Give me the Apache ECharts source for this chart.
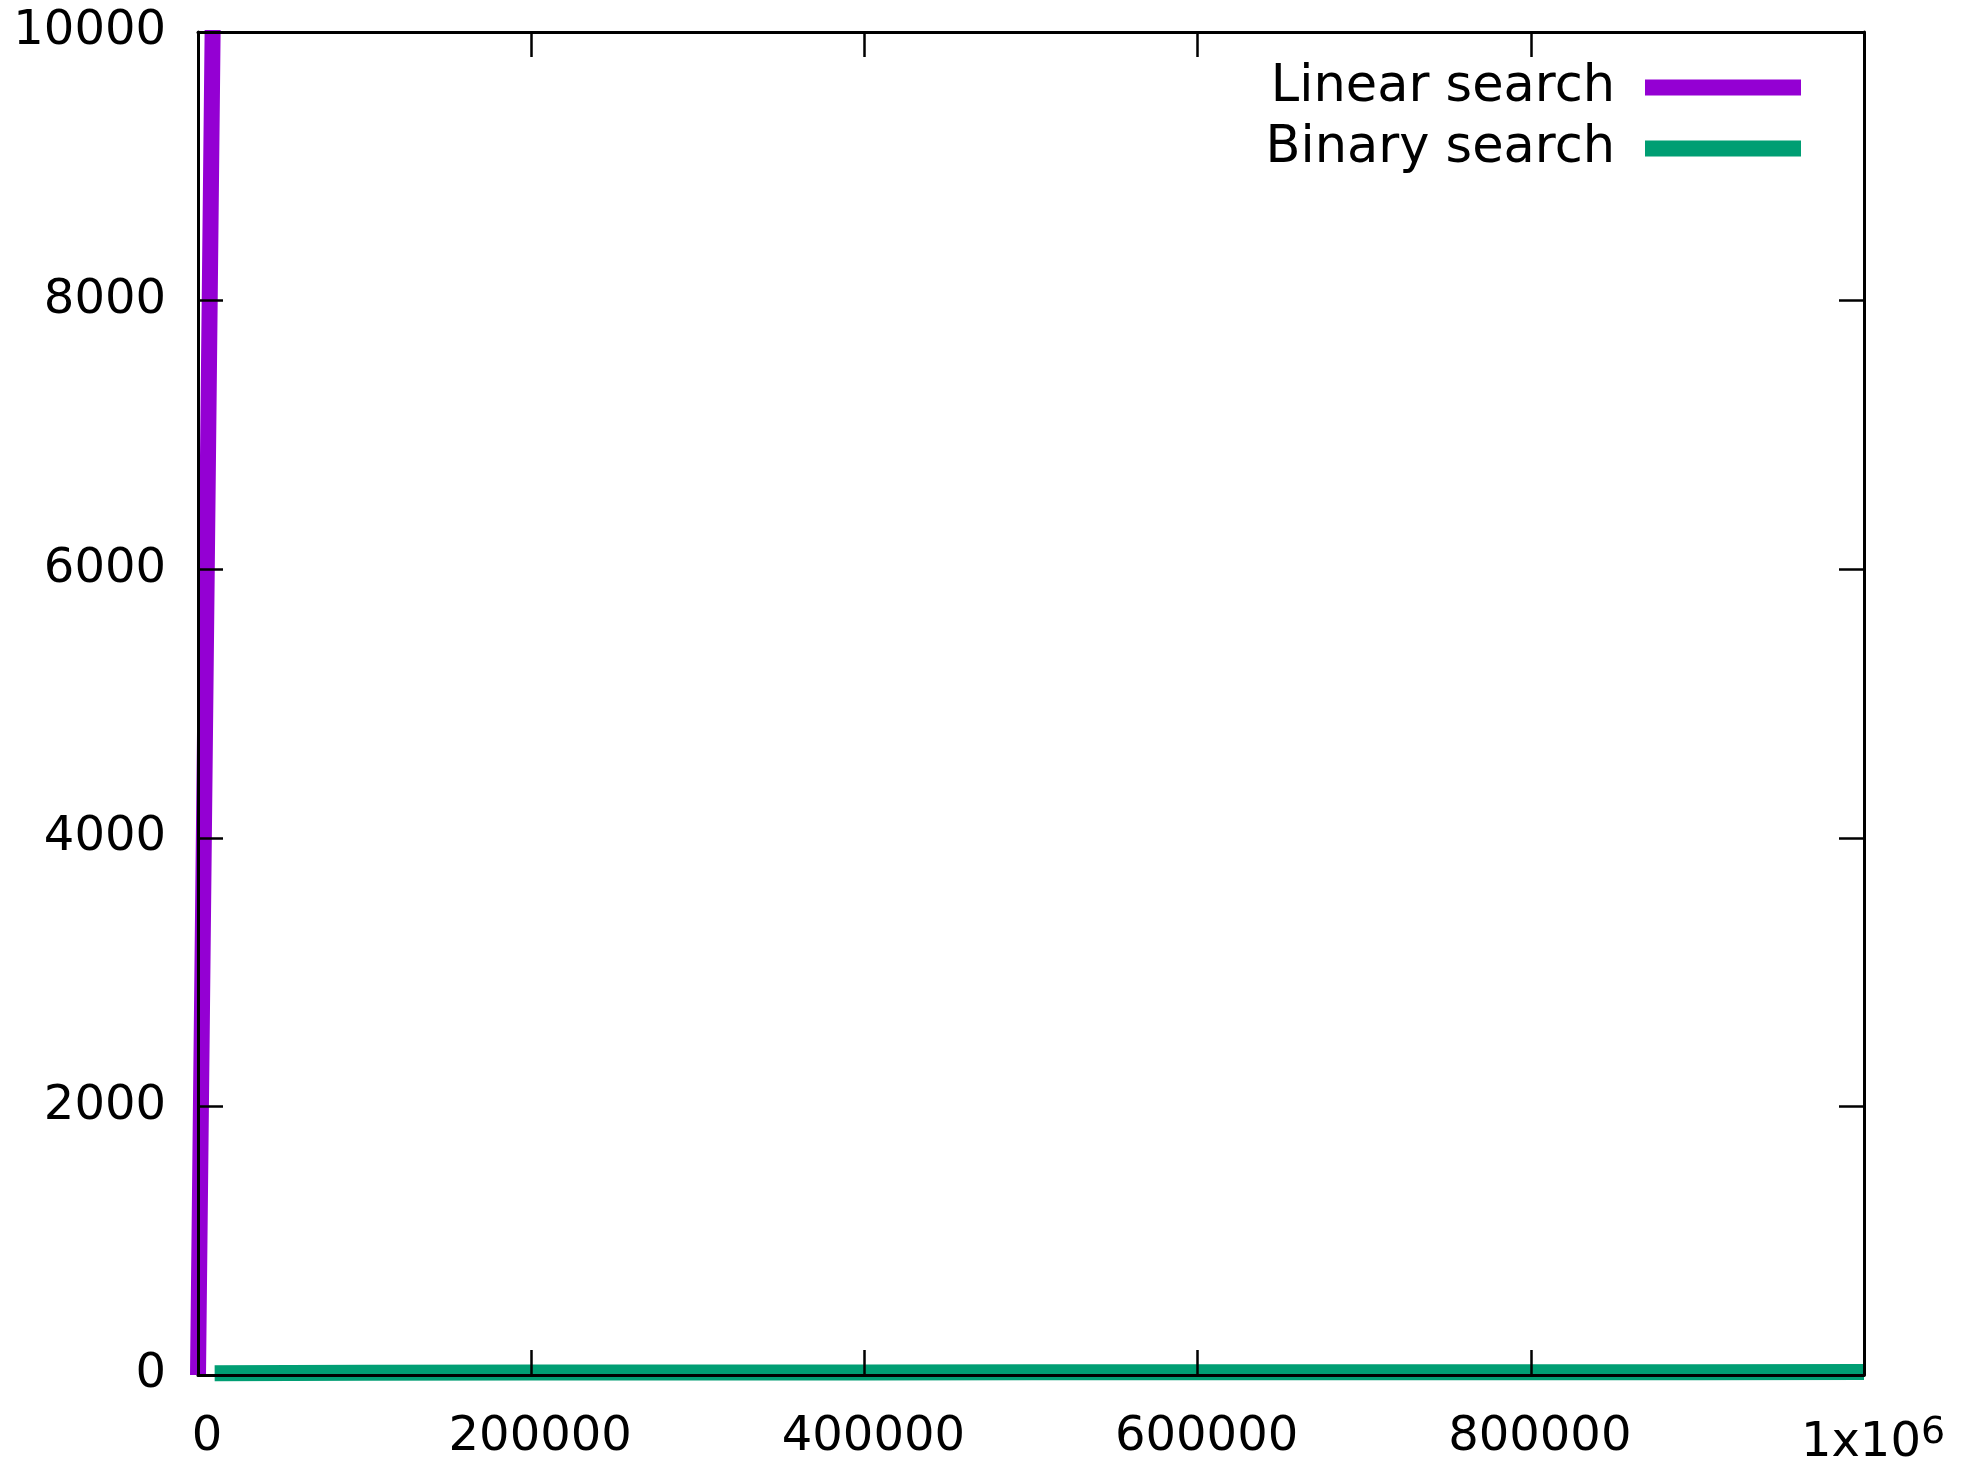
<!DOCTYPE html>
<html lang="en">
<head>
    <meta charset="UTF-8">
    <title>Linear vs binary search</title>
    <script type="text/javascript" src="https://cdn.jsdelivr.net/npm/echarts@6/dist/echarts.min.js"></script>
    <style>
        html, body { margin: 0; padding: 0; background: #fff; }
    </style>
</head>
<body>
<div id="main" style="width:1970px;height:1471px;"></div>

<script>
    // data
    const xTicks = [0, 200000, 400000, 600000, 800000, 1000000];
    const yTicks = [0, 2000, 4000, 6000, 8000, 10000];

    const linearSizes = [0, 10000, 100000, 500000, 1000000];
    const linearTimes = [0, 11400, 113500, 567000, 1134000];

    const binarySizes = [10000, 100000, 200000, 300000, 400000, 500000, 600000, 700000, 800000, 900000, 1000000];
    const binaryTimes = [13, 17, 18, 19, 19, 20, 20, 21, 21, 21, 22];

    const seriesNames = ['Linear search', 'Binary search'];
    const seriesColors = ['#9400d3', '#009e73'];

    const font = 'DejaVu Sans';
    const fontSize = 48;

    let myChart = echarts.init(document.getElementById('main'));

    function xLabel(v) {
        if (v === 1000000) return '1x10{sup|6}';
        return String(v);
    }

    const axisLine = {show: true, onZero: false, lineStyle: {color: '#000', width: 3}};
    const axisTick = {show: true, inside: true, length: 25, lineStyle: {color: '#000', width: 2.5}};

    const xBase = {
        type: 'value',
        min: xTicks[0],
        max: xTicks[xTicks.length - 1],
        interval: xTicks[1] - xTicks[0],
        splitLine: {show: false},
        axisLine: axisLine,
        axisTick: axisTick,
        z: 10
    };
    const yBase = {
        type: 'value',
        min: yTicks[0],
        max: yTicks[yTicks.length - 1],
        interval: yTicks[1] - yTicks[0],
        splitLine: {show: false},
        axisLine: axisLine,
        axisTick: axisTick,
        z: 10
    };

    let option = {
        animation: false,
        backgroundColor: '#fff',
        grid: {left: 198, right: 106, top: 32, bottom: 96, containLabel: false},
        // gnuplot clips the curve at the border, echarts lets it poke out a bit
        graphic: [{
            type: 'rect',
            z: 5,
            shape: {x: 190, y: 0, width: 60, height: 30},
            style: {fill: '#fff'}
        }],
        legend: {
            orient: 'vertical',
            align: 'right',
            right: 164,
            top: 57,
            itemWidth: 156,
            itemHeight: 16,
            itemGap: 10,
            data: seriesNames.map(n => ({name: n, icon: 'rect'})),
            textStyle: {
                fontFamily: font,
                fontSize: 51,
                lineHeight: 50,
                color: '#000',
                padding: [0, 25, 0, 0]
            }
        },
        xAxis: [
            Object.assign({}, xBase, {
                position: 'bottom',
                axisLabel: {
                    margin: 39,
                    fontFamily: font,
                    fontSize: fontSize,
                    color: '#000',
                    padding: [0, 0, 0, 18],
                    formatter: xLabel,
                    rich: {
                        sup: {fontFamily: font, fontSize: 38, color: '#000', verticalAlign: 'bottom', padding: [0, 0, 22, 0]}
                    }
                }
            }),
            Object.assign({}, xBase, {position: 'top', axisLabel: {show: false}})
        ],
        yAxis: [
            Object.assign({}, yBase, {
                position: 'left',
                axisLabel: {
                    margin: 32,
                    fontFamily: font,
                    fontSize: fontSize,
                    color: '#000',
                    formatter: v => String(v)
                }
            }),
            Object.assign({}, yBase, {position: 'right', axisLabel: {show: false}})
        ],
        series: [
            {
                name: seriesNames[0],
                type: 'line',
                symbol: 'none',
                data: linearSizes.map((s, i) => [s, linearTimes[i]]),
                lineStyle: {color: seriesColors[0], width: 16, cap: 'butt'},
                itemStyle: {color: seriesColors[0]}
            },
            {
                name: seriesNames[1],
                type: 'line',
                symbol: 'none',
                data: binarySizes.map((s, i) => [s, binaryTimes[i]]),
                lineStyle: {color: seriesColors[1], width: 16, cap: 'butt'},
                itemStyle: {color: seriesColors[1]}
            }
        ]
    };

    myChart.setOption(option);
</script>
</body>
</html>
